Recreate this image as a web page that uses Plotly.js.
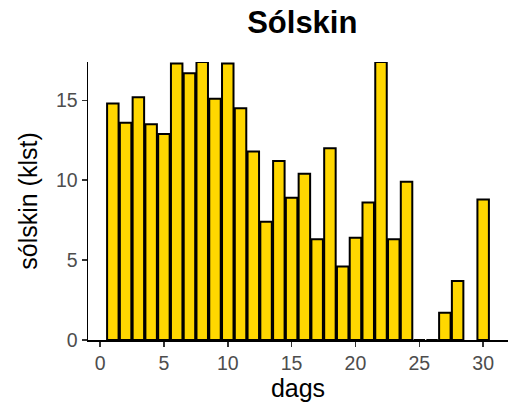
<!DOCTYPE html>
<html>
<head>
<meta charset="utf-8">
<script src="https://cdn.plot.ly/plotly-3.0.1.min.js"></script>
<style>html,body{margin:0;padding:0;background:#fff;}#chart{width:523px;height:406px;}</style>
</head>
<body>
<div id="chart"></div>
<script>
const days = [1,2,3,4,5,6,7,8,9,10,11,12,13,14,15,16,17,18,19,20,21,22,23,24,25,26,27,28,29,30];
const sunHours = [14.8,13.6,15.2,13.5,12.9,17.3,16.7,17.4,15.1,17.3,14.5,11.8,7.4,11.2,8.9,10.4,6.3,12.0,4.6,6.4,8.6,17.4,6.3,9.9,0,0,1.7,3.7,null,8.8];
const xTicks = [0,5,10,15,20,25,30];
const yTicks = [0,5,10,15];
const titleText = 'Sólskin';
const xTitle = 'dags';
const yTitle = 'sólskin (klst)';

const font = 'Liberation Sans, Arial, sans-serif';
const trace = {
  type: 'bar', x: days, y: sunHours, width: 0.9,
  marker: {color: '#FFD700', line: {color: '#000000', width: 2}},
  cliponaxis: false, hoverinfo: 'none'
};
const layout = {
  width: 523, height: 406,
  margin: {l: 88, r: 15, t: 62, b: 66},
  paper_bgcolor: '#fff', plot_bgcolor: '#fff',
  showlegend: false,
  font: {family: font, color: '#000'},
  title: {text: '<b>' + titleText + '</b>', font: {family: font, size: 31, color: '#000'}, x: 0.578, xanchor: 'center', y: 0.945, yanchor: 'middle'},
  xaxis: {
    range: [-0.945, 31.945], tickvals: xTicks, ticktext: xTicks.map(String),
    showgrid: false, zeroline: false, showline: true, linecolor: '#000', linewidth: 1.5,
    ticks: 'outside', ticklen: 5, tickwidth: 1.5, tickcolor: '#333',
    tickfont: {family: font, size: 19.5, color: '#4d4d4d'},
    title: {text: xTitle, font: {family: font, size: 25, color: '#000'}, standoff: 3},
    automargin: false
  },
  yaxis: {
    range: [0, 17.4], tickvals: yTicks, ticktext: yTicks.map(String),
    showgrid: false, zeroline: false, showline: true, linecolor: '#000', linewidth: 1.5,
    ticks: 'outside', ticklen: 5, tickwidth: 1.5, tickcolor: '#333',
    tickfont: {family: font, size: 19.5, color: '#4d4d4d'},
    title: {text: yTitle, font: {family: font, size: 25, color: '#000'}, standoff: 11},
    automargin: false
  }
};
Plotly.newPlot('chart', [trace], layout, {displayModeBar: false, staticPlot: true});
</script>
</body>
</html>
